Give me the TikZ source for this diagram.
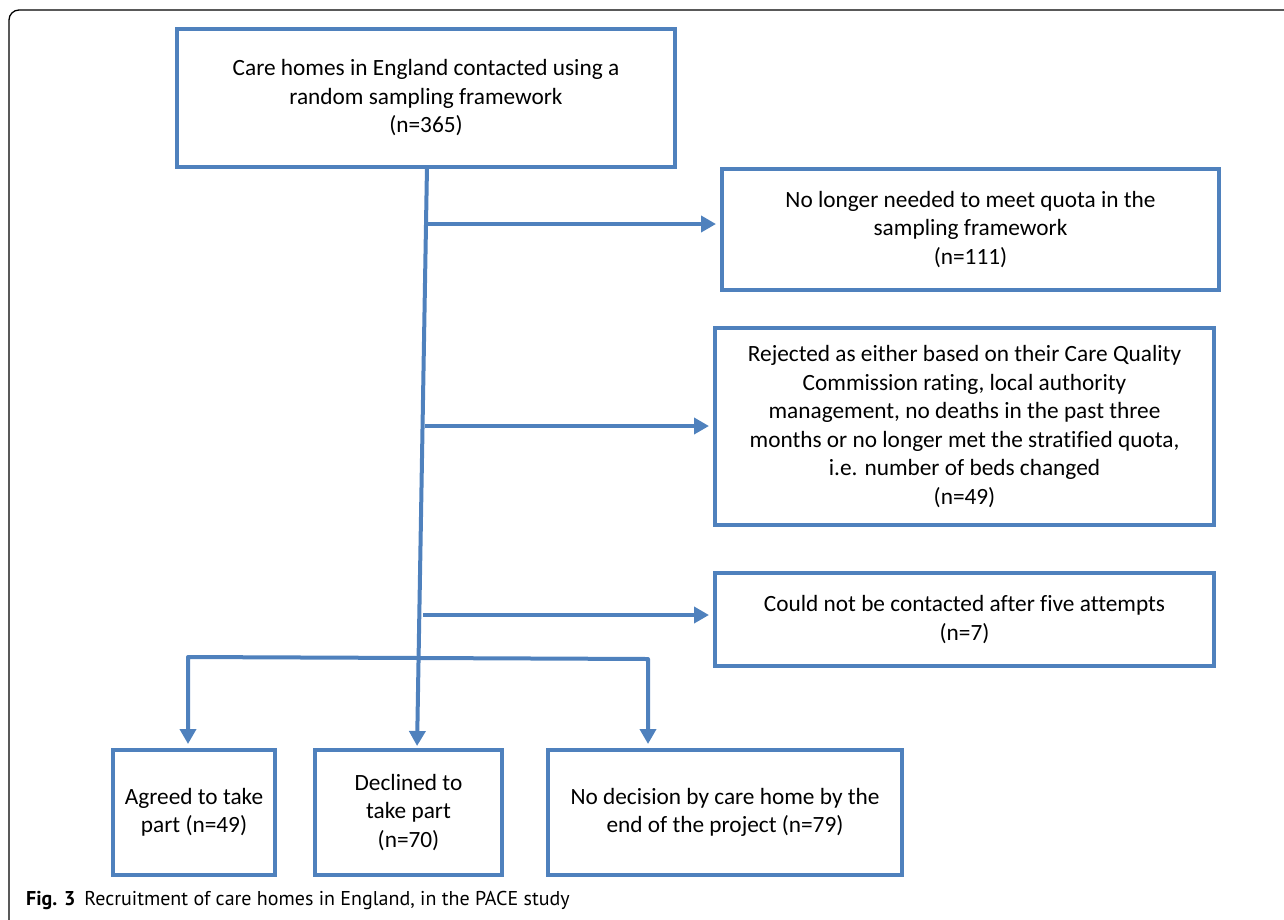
\documentclass[tikz,border=0pt]{standalone}
\usepackage{fontspec}
\setmainfont{Carlito}[Ligatures={NoCommon}]
\newfontfamily\capfont{PT Sans}
\usetikzlibrary{arrows.meta,calc}
\definecolor{boxblue}{HTML}{4F81BD}
\begin{document}
\begin{tikzpicture}[x=1pt,y=-1pt,
  box/.style={draw=boxblue,line width=4pt,rectangle,align=center,inner sep=0pt,
    font=\fontsize{23.3}{28.5}\selectfont},
  conn/.style={draw=boxblue,line width=4pt,line join=round},
  arr/.style={conn,-{Triangle[length=15pt,width=16pt]},shorten >=4pt}]
\useasboundingbox (0,0) rectangle (1284,919);
\clip (0,0) rectangle (1284,919);
\draw[line width=1.3pt,rounded corners=10pt] (9,10) rectangle (1310,940);

\node[box,minimum width=498pt,minimum height=138pt] (top) at (426,98)
  {Care homes in England contacted using a\\random sampling framework\\(n=365)};
\node[box,minimum width=497pt,minimum height=121pt] (quota) at (970.5,229.5)
  {No longer needed to meet quota in the\\sampling framework\\(n=111)};
\node[box,minimum width=499pt,minimum height=197pt] (rej) at (964.5,426.5)
  {Rejected as either based on their Care Quality\\Commission rating, local authority\\management, no deaths in the past three\\months or no longer met the stratified quota,\\i.e. number of beds changed\\(n=49)};
\node[box,minimum width=499pt,minimum height=93pt] (nocon) at (964.5,619.5)
  {Could not be contacted after five attempts\\(n=7)};
\node[box,minimum width=162pt,minimum height=125pt] (agreed) at (194,812.5)
  {Agreed to take\\part (n=49)};
\node[box,minimum width=187pt,minimum height=125pt] (declined) at (408.5,812.5)
  {Declined to\\take part\\(n=70)};
\node[box,minimum width=354pt,minimum height=125pt] (nodec) at (725,812.5)
  {No decision by care home by the\\end of the project (n=79)};

\coordinate (tstart) at (427,166);
\coordinate (tend) at (417,750);
\draw[arr] (tstart) -- (tend);

\coordinate (a1) at (426,224);
\coordinate (a2) at (425,426);
\coordinate (a3) at (423,615);
\draw[arr] (a1) -- (a1 -| quota.west);
\draw[arr] (a2) -- (a2 -| rej.west);
\draw[arr] (a3) -- (a3 -| nocon.west);

\coordinate (bm) at (419,658);
\coordinate (bl) at (188,657);
\coordinate (br) at (648,659);
\draw[arr] (bm) -- (bl) -- (bl |- agreed.north);
\draw[arr] (bm) -- (br) -- (br |- nodec.north);

\node[anchor=west,inner sep=0pt,font=\capfont\fontsize{20}{22}\selectfont] (cap) at (26,900)
  {\textbf{Fig. 3}\hspace{0.45em}Recruitment of care homes in England, in the PACE study};
\end{tikzpicture}
\end{document}
